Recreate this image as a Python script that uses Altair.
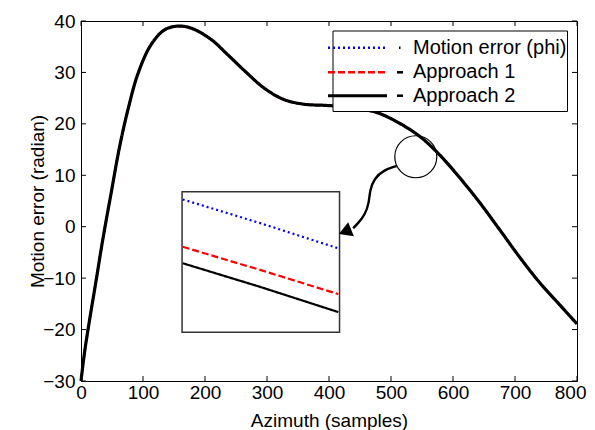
import altair as alt
import pandas as pd

# ---------------- data ----------------
azimuth = [0, 6, 14, 25, 35, 49, 62, 76, 92, 113, 135, 156, 178, 210, 237, 264,
           296, 328, 361, 393, 430, 461, 482, 514, 547, 579, 611, 643, 676, 708,
           740, 773, 800]
motion_error = [-30, -24.2, -18.0, -10.0, -2.6, 6.8, 15.4, 22.9, 29.8, 35.4, 38.3,
                39.0, 38.6, 36.4, 33.4, 30.3, 26.9, 24.7, 23.8, 23.6, 23.3, 22.7,
                22.0, 20.1, 17.5, 13.9, 9.5, 4.7, -0.7, -6.0, -10.9, -15.3, -18.9]
approach1 = [-30, -24.2, -18.0, -10.0, -2.6, 6.8, 15.4, 22.9, 29.8, 35.4, 38.3,
             39.0, 38.6, 36.4, 33.4, 30.3, 26.9, 24.7, 23.8, 23.6, 23.3, 22.7,
             22.0, 20.1, 17.5, 13.9, 9.5, 4.7, -0.7, -6.0, -10.9, -15.3, -18.9]
approach2 = [-30, -24.2, -18.0, -10.0, -2.6, 6.8, 15.4, 22.9, 29.8, 35.4, 38.3,
             39.0, 38.6, 36.4, 33.4, 30.3, 26.9, 24.7, 23.8, 23.6, 23.3, 22.7,
             22.0, 20.1, 17.5, 13.9, 9.5, 4.7, -0.7, -6.0, -10.9, -15.3, -18.9]

# magnified inset (drawn in main-axis units)
inset_x = [164, 289, 415]
inset_phi = [5.3, 0.7, -4.2]
inset_a1 = [-3.9, -8.4, -13.1]
inset_a2 = [-7.1, -11.7, -16.6]
inset_frame = {"x0": 163, "x1": 417, "y0": -20.5, "y1": 6.8}

# zoom circle and curved arrow
circle_pos = {"x": 540, "y": 13.6}
arrow_x = [509, 488, 473, 466, 464.5, 458, 447, 439]
arrow_y = [11.8, 11.0, 9.4, 7.1, 4.6, 2.3, 0.7, -0.3]
arrowhead_pos = {"x": 429, "y": -0.8}

x_ticks = [0, 100, 200, 300, 400, 500, 600, 700, 800]
y_ticks = [-30, -20, -10, 0, 10, 20, 30, 40]

series_names = ["Motion error (phi)", "Approach 1", "Approach 2"]
series_colors = ["#0000ff", "#ff0000", "#000000"]
series_dash = [[2, 3], [7, 3], [1, 0]]

FONT = "Liberation Sans"
W, H = 496, 360

# ---------------- scales / axes ----------------
xscale = alt.Scale(domain=[0, 800], nice=False, zero=False)
yscale = alt.Scale(domain=[-30, 40], nice=False, zero=False)
xaxis = alt.Axis(title="Azimuth (samples)", values=x_ticks, grid=False, ticks=False,
                 tickSize=0, domain=False, labelPadding=17.5,
                 labelBaseline="alphabetic", labelFlush=False, labelOverlap=False,
                 labelAlign={"condition": {"test": "datum.value == 800", "value": "right"},
                             "value": "center"},
                 labelOffset={"condition": {"test": "datum.value == 800", "value": 9},
                              "value": 0},
                 titleY=45, titleBaseline="alphabetic")
yaxis = alt.Axis(title="Motion error (radian)", values=y_ticks, grid=False, ticks=False,
                 tickSize=0, domain=False, labelPadding=6, labelFlush=False,
                 labelOverlap=False, titleX=-44, titleY=180, titleAngle=270,
                 titleAlign="center", titleBaseline="middle")


def X(f):
    return alt.X(f, type="quantitative", scale=xscale, axis=xaxis)


def Y(f):
    return alt.Y(f, type="quantitative", scale=yscale, axis=yaxis)


layers = []

# inset frame
frame_df = pd.DataFrame([inset_frame])
layers.append(alt.Chart(frame_df).mark_rect(fill="white", stroke="#333333", strokeWidth=1.5)
              .encode(x=X("x0"), x2="x1", y=Y("y0"), y2="y1"))

# inset lines
inset_vals = [inset_phi, inset_a1, inset_a2]
inset_widths = [2.2, 2.2, 2.2]
for name, vals, col, dash, w in zip(series_names, inset_vals, series_colors, series_dash, inset_widths):
    df = pd.DataFrame({"x": inset_x, "y": vals})
    layers.append(alt.Chart(df).mark_line(color=col, strokeDash=dash, strokeWidth=w)
                  .encode(x=X("x"), y=Y("y")))

# main curves
main_vals = [motion_error, approach1, approach2]
main_widths = [2.0, 2.2, 3.2]
for name, vals, col, dash, w in zip(series_names, main_vals, series_colors, series_dash, main_widths):
    df = pd.DataFrame({"x": azimuth, "y": vals})
    layers.append(alt.Chart(df).mark_line(color=col, strokeDash=dash, strokeWidth=w,
                                          interpolate="catmull-rom")
                  .encode(x=X("x"), y=Y("y")))

# zoom circle
layers.append(alt.Chart(pd.DataFrame([circle_pos])).mark_point(
    shape="circle", filled=False, size=1764, stroke="black", strokeWidth=1.2, opacity=1)
    .encode(x=X("x"), y=Y("y")))

# arrow
arrow_df = pd.DataFrame({"x": arrow_x, "y": arrow_y, "o": list(range(len(arrow_x)))})
layers.append(alt.Chart(arrow_df).mark_line(color="black", strokeWidth=2.4, interpolate="basis")
              .encode(x=X("x"), y=Y("y"), order="o:Q"))
layers.append(alt.Chart(pd.DataFrame([arrowhead_pos])).mark_point(
    shape="triangle", filled=True, size=230, angle=248, color="black", opacity=1)
    .encode(x=X("x"), y=Y("y")))

# legend (MATLAB-style box, top right)
leg_df = pd.DataFrame({"label": ["box"]})
layers.append(alt.Chart(leg_df).mark_rect(fill="white", stroke="black", strokeWidth=1)
              .encode(x=alt.value(252), x2=alt.value(486.5), y=alt.value(10), y2=alt.value(90.5)))
row_y = [26.7, 51.3, 74.7]
leg_widths = [2.5, 2.5, 3.0]
for name, col, dash, ry, w in zip(series_names, series_colors, series_dash, row_y, leg_widths):
    d = pd.DataFrame({"label": [name]})
    layers.append(alt.Chart(d).mark_rule(color=col, strokeDash=dash, strokeWidth=w)
                  .encode(x=alt.value(247), x2=alt.value(306), y=alt.value(ry)))
    layers.append(alt.Chart(d).mark_text(align="left", baseline="middle", font=FONT,
                                         fontSize=20, color="black")
                  .encode(x=alt.value(332), y=alt.value(ry), text="label:N"))
# small marker stubs after the legend lines
for ry, x0, x1 in zip(row_y, [318, 316, 316], [319.5, 322, 322]):
    d = pd.DataFrame({"label": ["stub"]})
    layers.append(alt.Chart(d).mark_rule(color="black", strokeWidth=2.5)
                  .encode(x=alt.value(x0), x2=alt.value(x1), y=alt.value(ry)))

# inward ticks on all four sides
xt = pd.DataFrame({"t": x_ticks})
yt = pd.DataFrame({"t": y_ticks})
layers.append(alt.Chart(xt).mark_rule(color="black", strokeWidth=1)
              .encode(x=X("t"), y=alt.value(0), y2=alt.value(5)))
layers.append(alt.Chart(xt).mark_rule(color="black", strokeWidth=1)
              .encode(x=X("t"), y=alt.value(H - 5), y2=alt.value(H)))
layers.append(alt.Chart(yt).mark_rule(color="black", strokeWidth=1)
              .encode(y=Y("t"), x=alt.value(0), x2=alt.value(5)))
layers.append(alt.Chart(yt).mark_rule(color="black", strokeWidth=1)
              .encode(y=Y("t"), x=alt.value(W - 5), x2=alt.value(W)))

chart = alt.layer(*layers).properties(
    width=W, height=H,
    autosize=alt.AutoSizeParams(type="none"),
    padding={"left": 73, "top": 13, "right": 10, "bottom": 49},
    background="white",
).configure_view(
    stroke="black", strokeWidth=1
).configure_axis(
    labelFont=FONT, titleFont=FONT, labelFontSize=19, titleFontSize=19,
    titleFontWeight="normal", labelColor="black", titleColor="black",
)

chart.save("out.html", embed_options={"renderer": "svg", "actions": False})
